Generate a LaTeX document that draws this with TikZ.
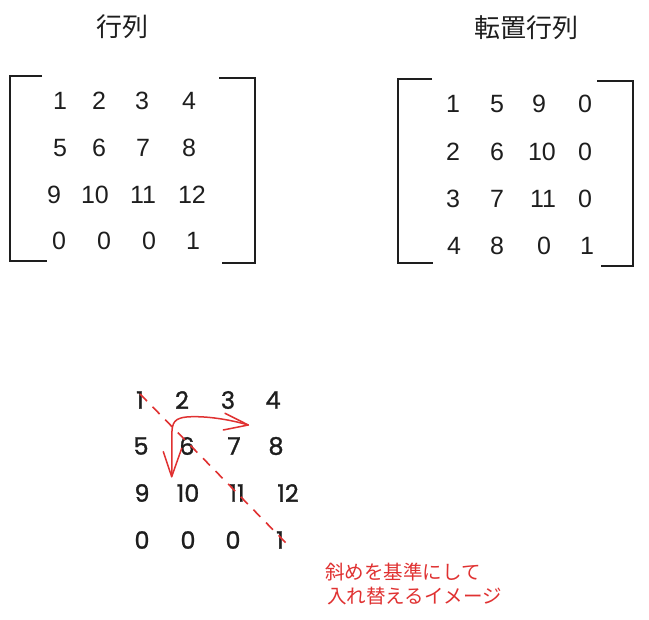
\documentclass[tikz,border=0pt]{standalone}
\usepackage{fontspec}
\setmainfont{Liberation Sans}
\newfontfamily\cjk{Noto Sans CJK JP}
\newfontfamily\handfont[FakeBold=1.2]{Poppins}
\definecolor{ink}{HTML}{1E1E1E}
\definecolor{exred}{HTML}{E03131}
\begin{document}
\begin{tikzpicture}[x=1pt,y=-1pt,
  num/.style={inner sep=0pt, font=\fontsize{25}{28}\selectfont, text=ink},
  hnum/.style={inner sep=0pt, font=\handfont\fontsize{24}{26}\selectfont, text=ink},
  title/.style={inner sep=0pt, font=\cjk\fontsize{26}{30}\selectfont, text=ink},
  note/.style={inner sep=0pt, anchor=west, font=\cjk\fontsize{19.5}{22}\selectfont, text=exred},
  bracket/.style={draw=ink, line width=1.6pt},
  redline/.style={draw=exred, line width=1.5pt, line cap=round, line join=round},
  reddash/.style={draw=exred, line width=1.6pt, dash pattern=on 10pt off 8pt}]
\useasboundingbox (0,0) rectangle (649,620);
\fill[white] (0,0) rectangle (649,620);

% titles
\node[title] (t1) at (122,27) {行列};
\node[title] (t2) at (526,28) {転置行列};

% left matrix
\foreach \x/\y/\t/\n in {
  60/101/1/a11, 99/101/2/a12, 142/101/3/a13, 189/101/4/a14,
  60/148/5/a21, 99/148/6/a22, 143/148/7/a23, 189/148/8/a24,
  54/195/9/a31, 95/195/10/a32, 143/195/11/a33, 192/195/12/a34,
  59/241/0/a41, 104/241/0/a42, 149/241/0/a43, 193/241/1/a44}
  \node[num] (\n) at (\x,\y) {\t};
\draw[bracket] (42,76) -- (10,76) -- (10,261) -- (47,261);
\draw[bracket] (219,78) -- (255,78) -- (255,263) -- (222,263);

% right (transposed) matrix
\foreach \x/\y/\t/\n in {
  453/104/1/b11, 497/104/5/b12, 539/104/9/b13, 585/104/0/b14,
  453/152/2/b21, 497/152/6/b22, 542/152/10/b23, 585/152/0/b24,
  453/199/3/b31, 497/199/7/b32, 543/199/11/b33, 585/199/0/b34,
  454/246/4/b41, 497/246/8/b42, 544/246/0/b43, 587/246/1/b44}
  \node[num] (\n) at (\x,\y) {\t};
\draw[bracket] (432,79) -- (398,79) -- (398,263) -- (433,263);
\draw[bracket] (597,81) -- (633,81) -- (633,266) -- (601,266);

% hand-drawn matrix
\foreach \x/\y/\t/\n in {
  140/400/1/c11, 182/400/2/c12, 228/400/3/c13, 273/400/4/c14,
  141/446/5/c21, 187/446/6/c22, 234/446/7/c23, 276/446/8/c24,
  142/493/9/c31, 188/493/10/c32, 237/493/11/c33, 288/493/12/c34,
  142/540/0/c41, 188/540/0/c42, 233/540/0/c43, 280/540/1/c44}
  \node[hnum] (\n) at (\x,\y) {\t};

% diagonal
\coordinate (d1) at (140,394);
\coordinate (d2) at (286,543);
\draw[reddash] (d1) -- (d2);

% bent double arrow
\coordinate (p1) at (171.7,476.7);
\coordinate (p2) at (248.3,425);
\draw[redline] (p1) .. controls (172.5,455) and (171,432) .. (172.5,427)
  .. controls (174,418) and (182,416.5) .. (196.7,416.7)
  .. controls (215,417) and (235,421) .. (p2);
\draw[redline] (225,413.3) -- (p2) -- (223.3,430);
\draw[redline] (163.3,451.7) -- (p1) -- (181.7,448.3);

% note
\node[note] (n1) at (325,572) {斜めを基準にして};
\node[note] (n2) at (327,596) {入れ替えるイメージ};
\end{tikzpicture}
\end{document}
